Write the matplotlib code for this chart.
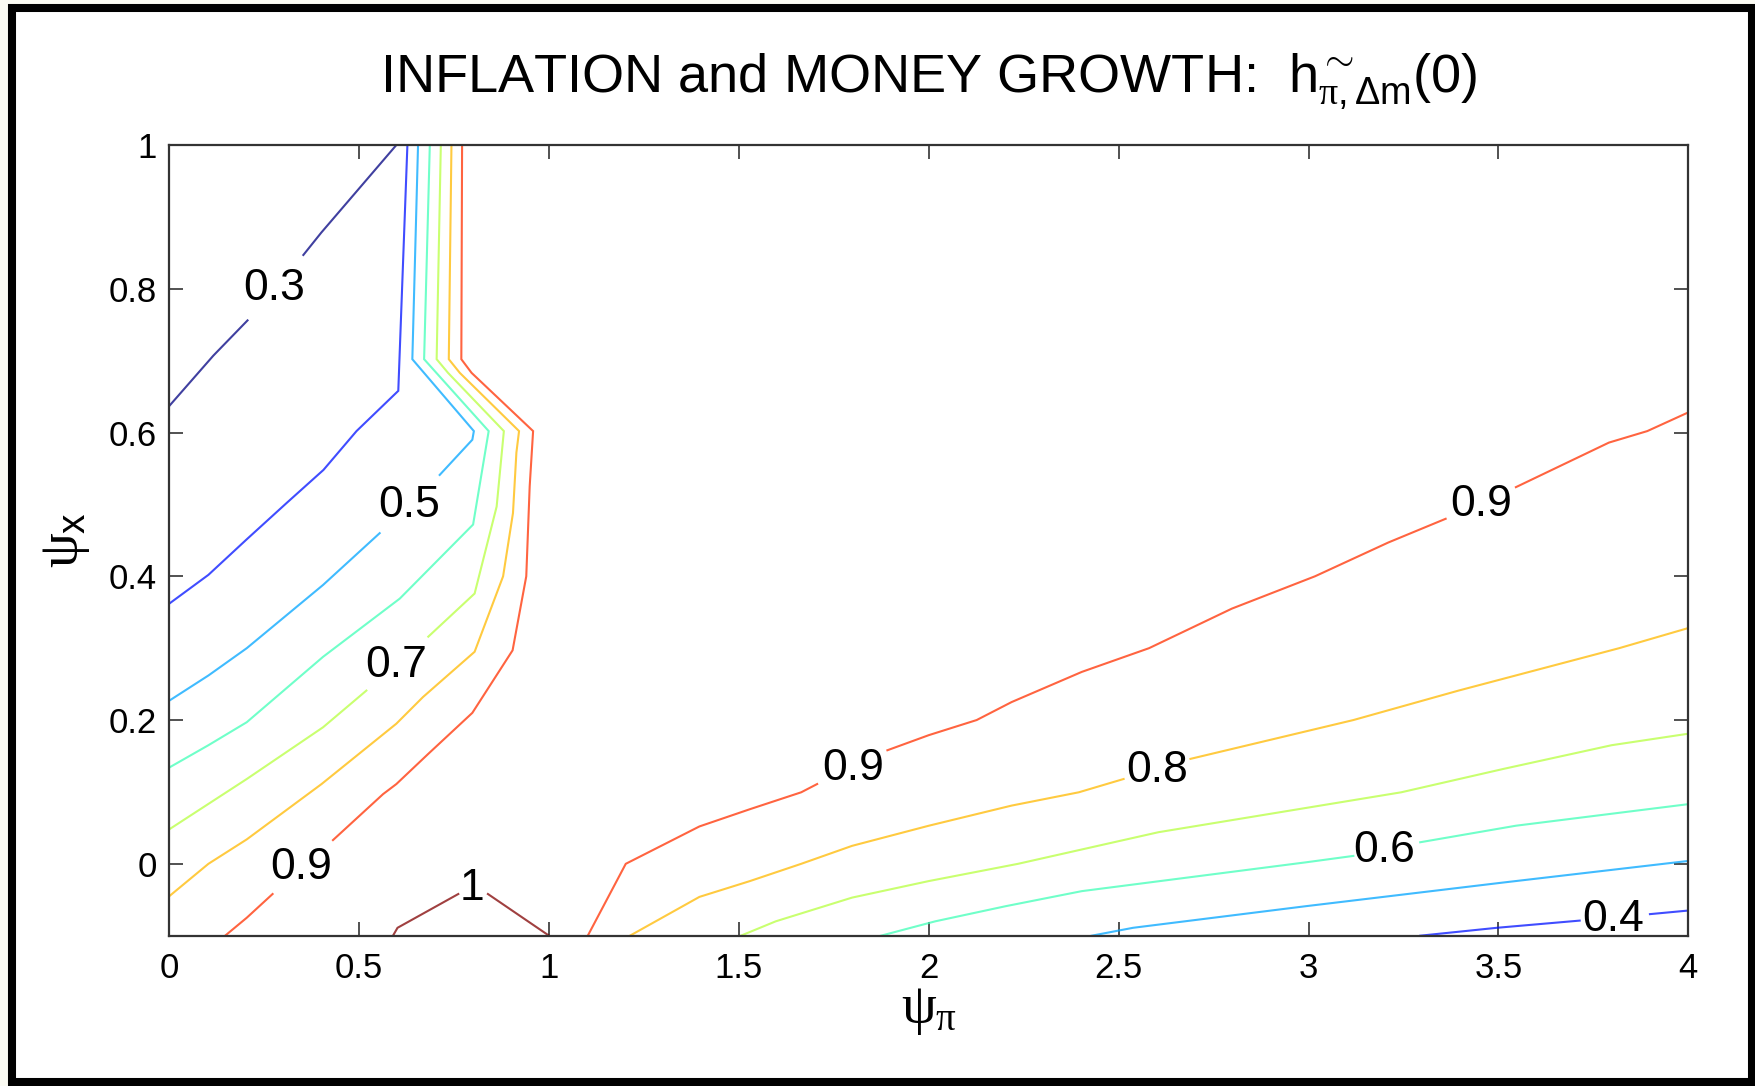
import numpy as np
import matplotlib.pyplot as plt
from matplotlib.patches import Rectangle

plt.rcParams['font.family'] = ['Liberation Sans', 'DejaVu Sans']
plt.rcParams['mathtext.fontset'] = 'custom'
plt.rcParams['mathtext.rm'] = 'Liberation Sans'
plt.rcParams['mathtext.it'] = 'Liberation Serif'

# contour levels of h~(0) over (psi_pi, psi_x); each level is a list of (x, y) pieces
c30 = [([0, 0.116, 0.206], [0.637, 0.707, 0.756]),
       ([0.353, 0.40, 0.598], [0.847, 0.878, 1.0])]
c40 = [([0, 0.103, 0.203, 0.309, 0.406, 0.493, 0.603, 0.627],
        [0.362, 0.402, 0.451, 0.502, 0.548, 0.602, 0.658, 1.0]),
       ([3.294, 3.496, 3.714], [-0.1, -0.089, -0.079]),
       ([3.899, 4.0], [-0.070, -0.065])]
c50 = [([0.655, 0.640, 0.802, 0.798, 0.712], [1.0, 0.702, 0.602, 0.590, 0.541]),
       ([0.554, 0.405, 0.204, 0.103, 0], [0.460, 0.388, 0.300, 0.262, 0.227]),
       ([2.429, 2.538, 2.992, 3.513, 4.0], [-0.1, -0.089, -0.059, -0.026, 0.004])]
c60 = [([0.686, 0.671, 0.841, 0.8, 0.607, 0.405, 0.204, 0.103, 0],
        [1.0, 0.702, 0.602, 0.472, 0.369, 0.288, 0.197, 0.165, 0.134]),
       ([1.874, 2.017, 2.202, 2.403, 2.992, 3.118], [-0.1, -0.080, -0.059, -0.038, 0.002, 0.011]),
       ([3.294, 3.546, 4.0], [0.030, 0.053, 0.083])]
c70 = [([0.715, 0.704, 0.734, 0.881, 0.862, 0.804, 0.682],
        [1.0, 0.702, 0.683, 0.602, 0.497, 0.376, 0.316]),
       ([0.519, 0.405, 0.204, 0], [0.241, 0.190, 0.118, 0.048]),
       ([1.505, 1.597, 1.798, 2.0, 2.235, 2.605, 3.244, 3.513, 3.798, 4.0],
        [-0.1, -0.080, -0.047, -0.024, 0.0, 0.044, 0.0995, 0.132, 0.165, 0.181])]
c80 = [([0.743, 0.736, 0.765, 0.921, 0.914, 0.905, 0.879, 0.804, 0.668, 0.598, 0.401, 0.204, 0.103, 0],
        [1.0, 0.702, 0.683, 0.602, 0.572, 0.488, 0.4, 0.295, 0.232, 0.195, 0.111, 0.034, 0, -0.045]),
       ([1.213, 1.396, 1.529, 1.664, 1.798, 2.0, 2.218, 2.395, 2.513],
        [-0.1, -0.046, -0.024, 0.0, 0.025, 0.053, 0.081, 0.0995, 0.118]),
       ([2.689, 3.118, 3.395, 3.818, 4.0], [0.146, 0.200, 0.241, 0.300, 0.328])]
c90 = [([0.771, 0.769, 0.796, 0.958, 0.949, 0.940, 0.904, 0.798, 0.682, 0.598, 0.563, 0.431],
        [1.0, 0.702, 0.683, 0.602, 0.525, 0.4, 0.297, 0.210, 0.153, 0.111, 0.097, 0.033]),
       ([0.272, 0.204, 0.147], [-0.042, -0.075, -0.1]),
       ([1.102, 1.202, 1.396, 1.529, 1.664, 1.706], [-0.1, 0.0, 0.052, 0.076, 0.0995, 0.111]),
       ([1.891, 2.0, 2.126, 2.218, 2.403, 2.580, 2.798, 3.017, 3.21, 3.361],
        [0.158, 0.179, 0.200, 0.225, 0.267, 0.300, 0.355, 0.400, 0.447, 0.480]),
       ([3.546, 3.791, 3.892, 4.0], [0.524, 0.586, 0.602, 0.628])]
c100 = [([0.589, 0.601, 0.761], [-0.1, -0.089, -0.042]),
        ([0.839, 1.0], [-0.042, -0.1])]

levels = [0.3, 0.4, 0.5, 0.6, 0.7, 0.8, 0.9, 1.0]
curves = [c30, c40, c50, c60, c70, c80, c90, c100]

# inline labels
lab_x = [0.276, 0.632, 0.598, 0.348, 0.798, 1.802, 2.60, 3.198, 3.802, 3.454]
lab_y = [0.80, 0.499, 0.276, -0.005, -0.035, 0.132, 0.130, 0.018, -0.077, 0.50]
lab_v = [0.3, 0.5, 0.7, 0.9, 1.0, 0.9, 0.8, 0.6, 0.4, 0.9]

fig = plt.figure(figsize=(17.56, 10.86), dpi=100, facecolor='#fbfbf3')
fig.patches.append(Rectangle((12 / 1756, 4 / 1086), 1740 / 1756, 1074 / 1086,
                             transform=fig.transFigure, facecolor='white',
                             edgecolor='black', lw=5.8, zorder=-1))
ax = fig.add_axes([169.3 / 1756, 1 - 935.7 / 1086, 1519 / 1756, 790.7 / 1086])

cmap = plt.get_cmap('jet')
for lv, segs in zip(levels, curves):
    col = cmap((lv - 0.3) / 0.7)
    for xs, ys in segs:
        ax.plot(xs, ys, color=col, lw=1.5, alpha=0.75, solid_joinstyle='miter')

for x, y, v in zip(lab_x, lab_y, lab_v):
    ax.text(x, y, '%g' % v, fontsize=32, ha='center', va='center')

ax.set_xlim(0, 4)
ax.set_ylim(-0.1, 1)
ax.set_xticks(np.arange(0, 4.01, 0.5))
ax.set_xticklabels(['0', '0.5', '1', '1.5', '2', '2.5', '3', '3.5', '4'])
ax.set_yticks([0, 0.2, 0.4, 0.6, 0.8, 1])
ax.set_yticklabels(['0', '0.2', '0.4', '0.6', '0.8', '1'])
ax.tick_params(direction='in', length=10, width=1.2, color='#333333',
               top=True, right=True, labelsize=25)
ax.tick_params(axis='x', pad=12)
ax.tick_params(axis='y', pad=9)
for s in ax.spines.values():
    s.set_linewidth(1.6)
    s.set_color('#333333')

ax.set_xlabel(r'$\psi_\pi$', fontsize=40, labelpad=0)
ax.set_ylabel(r'$\psi_{\mathrm{x}}$', fontsize=40, labelpad=12)
ax.set_title(r'INFLATION and MONEY GROWTH:  $\mathrm{h}^{\sim}_{\pi,\Delta \mathrm{m}}\mathrm{(0)}$',
             fontsize=39, pad=38)

fig.savefig('out.png', dpi=100, facecolor=fig.get_facecolor())
